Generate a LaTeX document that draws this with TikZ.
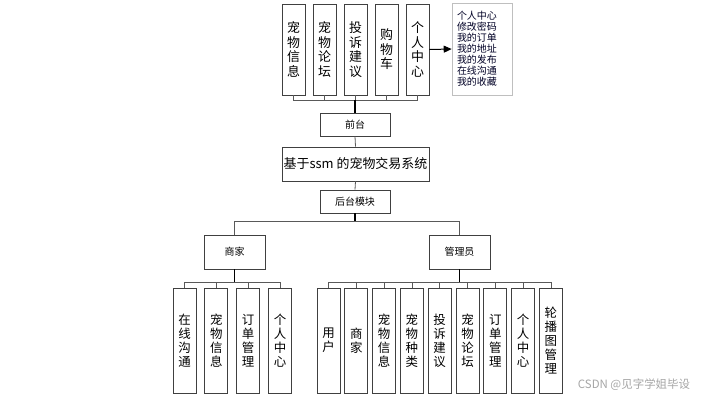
\documentclass[tikz,border=0pt]{standalone}
\usepackage{fontspec}
\setmainfont{Liberation Sans}
\newfontfamily\cjk{Noto Sans CJK SC}
\usetikzlibrary{arrows.meta,shadows}
\tikzset{
  box/.style={draw=black!75, line width=0.9bp, fill=white, inner sep=0pt, align=center},
  vtop/.style={box, minimum width=23bp, minimum height=91bp, font=\cjk\fontsize{13}{14.5}\selectfont},
  vbot/.style={box, minimum width=23bp, minimum height=105bp, font=\cjk\fontsize{12.5}{14}\selectfont},
  small/.style={box, minimum width=70bp, minimum height=23bp, font=\cjk\fontsize{10}{12}\selectfont},
  role/.style={box, minimum width=61bp, minimum height=34bp, font=\cjk\fontsize{10}{12}\selectfont},
  conn/.style={draw=black!65, line width=0.8bp},
  trunk/.style={draw=black, line width=1.2bp},
}
\begin{document}
\begin{tikzpicture}[x=1bp,y=-1bp]
\useasboundingbox[fill=white] (0,0) rectangle (709,401);
% top row
\node[vtop] (t1) at (293.5,49.5) {宠\\物\\信\\息};
\node[vtop] (t2) at (324.5,49.5) {宠\\物\\论\\坛};
\node[vtop] (t3) at (355.5,49.5) {投\\诉\\建\\议};
\node[vtop] (t4) at (386.5,49.5) {购\\物\\车};
\node[vtop] (t5) at (417.5,49.5) {个\\人\\中\\心};
\node[draw=black!25, line width=0.6bp, fill=white, drop shadow={shadow xshift=1.2bp, shadow yshift=-1.2bp, opacity=0.25},
      inner xsep=5bp, inner ysep=0pt, text width=50bp, minimum height=92bp, align=left,
      font=\cjk\fontsize{10}{11.1}\selectfont, text=black!85!blue] (list) at (482,49)
  {个人中心\\修改密码\\我的订单\\我的地址\\我的发布\\在线沟通\\我的收藏};
\draw[line width=1bp, -{Triangle[length=8bp,width=7bp]}] (t5.east) -- (list.west);
% middle
\node[small] (qt) at (355,124.5) {前台};
\node[box, minimum width=147bp, minimum height=34bp, font=\cjk\fontsize{13}{15}\selectfont] (main) at (355.5,164) {基于ssm 的宠物交易系统};
\node[small] (ht) at (355,201.5) {后台模块};
\coordinate (tb) at (355,100);
\foreach \i in {1,...,5} {\draw[conn] (t\i.south) |- (tb);}
\draw[trunk] (tb) -- (qt.north);
\draw[conn] (qt.south) -- (main.north);
\draw[conn] (main.south) -- (ht.north);
% roles
\node[role] (sj) at (234.5,252) {商家};
\node[role] (gly) at (459.5,252) {管理员};
\coordinate (hb) at (355,221);
\draw[trunk] (ht.south) -- (hb);
\draw[conn] (hb) -| (sj.north);
\draw[conn] (hb) -| (gly.north);
% merchant modules
\node[vbot] (s1) at (184.5,340.5) {在\\线\\沟\\通};
\node[vbot] (s2) at (216.3,340.5) {宠\\物\\信\\息};
\node[vbot] (s3) at (248.1,340.5) {订\\单\\管\\理};
\node[vbot] (s4) at (280,340.5) {个\\人\\中\\心};
\coordinate (sb) at (234.5,282);
\draw[trunk] (sj.south) -- (sb);
\foreach \i in {1,...,4} {\draw[conn] (s\i.north) |- (sb);}
% admin modules
\node[vbot] (g1) at (328.5,340.5) {用\\户};
\node[vbot] (g2) at (356.3,340.5) {商\\家};
\node[vbot] (g3) at (384.1,340.5) {宠\\物\\信\\息};
\node[vbot] (g4) at (411.9,340.5) {宠\\物\\种\\类};
\node[vbot] (g5) at (439.7,340.5) {投\\诉\\建\\议};
\node[vbot] (g6) at (467.5,340.5) {宠\\物\\论\\坛};
\node[vbot] (g7) at (495.3,340.5) {订\\单\\管\\理};
\node[vbot] (g8) at (523.1,340.5) {个\\人\\中\\心};
\node[vbot] (g9) at (550.9,340.5) {轮\\播\\图\\管\\理};
\coordinate (gb) at (459.5,282);
\draw[trunk] (gly.south) -- (gb);
\foreach \i in {1,...,9} {\draw[conn] (g\i.north) |- (gb);}
% watermark
\node[font=\cjk\fontsize{11.5}{13}\selectfont, text=black!35, inner sep=0pt] (wm) at (634,385) {CSDN @见字学姐毕设};
\end{tikzpicture}
\end{document}
